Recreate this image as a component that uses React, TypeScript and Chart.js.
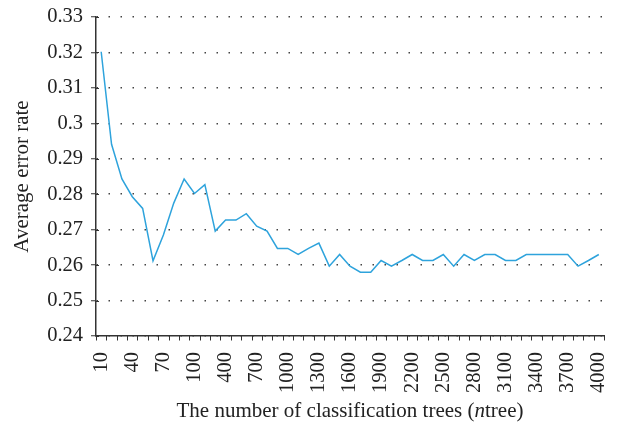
import React, { useEffect, useRef } from "react";
import { Chart, registerables } from "chart.js";

Chart.register(...registerables);

const categories: string[] = [
  "10", "20", "30", "40", "50", "60", "70", "80", "90", "100",
  "200", "300", "400", "500", "600", "700", "800", "900", "1000",
  "1100", "1200", "1300", "1400", "1500", "1600", "1700", "1800", "1900", "2000",
  "2100", "2200", "2300", "2400", "2500", "2600", "2700", "2800", "2900", "3000",
  "3100", "3200", "3300", "3400", "3500", "3600", "3700", "3800", "3900", "4000",
];

const errorRates: number[] = [
  0.3202, 0.2941, 0.2843, 0.2793, 0.276, 0.2612, 0.2685, 0.2775, 0.2843, 0.2802,
  0.2827, 0.2696, 0.2727, 0.2727, 0.2745, 0.271, 0.2696, 0.2647, 0.2647,
  0.263, 0.2647, 0.2662, 0.2597, 0.263, 0.2597, 0.258, 0.258, 0.2613, 0.2597,
  0.2613, 0.263, 0.2613, 0.2613, 0.263, 0.2597, 0.263, 0.2613, 0.263, 0.263,
  0.2613, 0.2613, 0.263, 0.263, 0.263, 0.263, 0.263, 0.2597, 0.2613, 0.263,
];

const yMin = 0.24;
const yMax = 0.33;
const yStep = 0.01;
const labelEvery = 3;

const xTitleParts = [
  { text: "The number of classification trees (", italic: false },
  { text: "n", italic: true },
  { text: "tree)", italic: false },
];
const yTitle = "Average error rate";

const FONT = "'Liberation Serif', 'DejaVu Serif', serif";
const TITLE_SIZE = 21;

const axisExtras = {
  id: "axisExtras",
  afterDraw(chart: any) {
    const { ctx, chartArea, scales } = chart;
    const x = scales.x;
    const y = scales.y;
    ctx.save();
    ctx.strokeStyle = "#333";
    ctx.lineWidth = 1;
    ctx.beginPath();
    y.ticks.forEach((_t: any, i: number) => {
      const py = Math.round(y.getPixelForTick(i)) + 0.5;
      ctx.moveTo(chartArea.left, py);
      ctx.lineTo(chartArea.left + 3, py);
    });
    const n = categories.length;
    const step = n > 1 ? x.getPixelForValue(1) - x.getPixelForValue(0) : 0;
    for (let i = 0; i <= n; i++) {
      const px = Math.round(x.getPixelForValue(0) - step / 2 + i * step) + 0.5;
      ctx.moveTo(px, chartArea.bottom);
      ctx.lineTo(px, chartArea.bottom + 4.5);
    }
    ctx.stroke();

    // x-axis title with italic part
    const fonts = xTitleParts.map(
      (p) => `${p.italic ? "italic " : ""}${TITLE_SIZE}px ${FONT}`
    );
    let total = 0;
    const widths = xTitleParts.map((p, i) => {
      ctx.font = fonts[i];
      const w = ctx.measureText(p.text).width;
      total += w;
      return w;
    });
    const cx = (chartArea.left + chartArea.right) / 2;
    let sx = cx - total / 2;
    const ty = chart.height - 18;
    ctx.fillStyle = "#222";
    ctx.textBaseline = "middle";
    ctx.textAlign = "left";
    xTitleParts.forEach((p, i) => {
      ctx.font = fonts[i];
      ctx.fillText(p.text, sx, ty);
      sx += widths[i];
    });
    ctx.restore();
  },
};

export default function App() {
  const ref = useRef<HTMLCanvasElement | null>(null);

  useEffect(() => {
    if (!ref.current) return;
    const chart = new Chart(ref.current, {
      type: "line",
      data: {
        labels: categories,
        datasets: [
          {
            data: errorRates,
            borderColor: "#2ea3dc",
            borderWidth: 1.5,
            pointRadius: 0,
            tension: 0,
            fill: false,
          },
        ],
      },
      options: {
        animation: false,
        responsive: true,
        maintainAspectRatio: false,
        layout: { padding: { left: 10, right: 15, top: 17, bottom: 8 } },
        plugins: {
          legend: { display: false },
          tooltip: { enabled: false },
        },
        scales: {
          x: {
            type: "category",
            offset: true,
            grid: {
              offset: true,
              drawOnChartArea: false,
              drawTicks: false,
            },
            border: { display: true, color: "#333", width: 1.5 },
            ticks: {
              autoSkip: false,
              maxRotation: 90,
              minRotation: 90,
              padding: 16,
              color: "#222",
              font: { family: FONT, size: 20.5 },
              callback: (_v: any, i: number) => (i % labelEvery === 0 ? categories[i] : null),
            },
            title: { display: false },
            afterFit: (s: any) => {
              s.height = 85;
              s.paddingLeft = 0;
              s.paddingRight = 0;
            },
          },
          y: {
            min: yMin,
            max: yMax,
            grid: {
              drawOnChartArea: true,
              drawTicks: true,
              tickLength: 5,
              color: "#444",
              lineWidth: 1.5,
              tickColor: "#333",
              tickWidth: 1,
            },
            border: { display: true, color: "#333", width: 1.5, dash: [1.5, 10.5] },
            ticks: {
              stepSize: yStep,
              padding: 8,
              color: "#222",
              font: { family: FONT, size: 20.5 },
              callback: (v: any) => String(Number(Number(v).toFixed(2))),
            },
            title: {
              display: true,
              text: yTitle,
              color: "#222",
              font: { family: FONT, size: TITLE_SIZE },
              padding: 0,
            },
            afterFit: (s: any) => {
              s.width = 86;
              s.paddingTop = 0;
              s.paddingBottom = 0;
            },
          },
        },
      },
      plugins: [axisExtras],
    } as any);
    return () => chart.destroy();
  }, []);

  return (
    <div style={{ position: "fixed", left: 0, top: 0, width: 619, height: 429, background: "#fff" }}>
      <canvas ref={ref} />
    </div>
  );
}
